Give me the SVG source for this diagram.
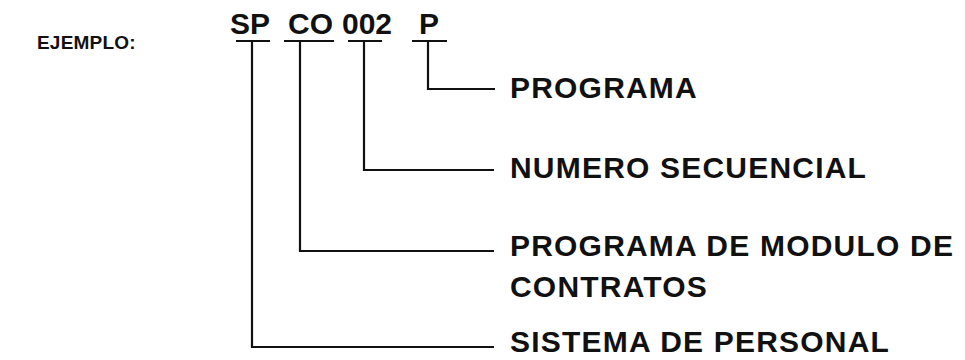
<svg xmlns="http://www.w3.org/2000/svg" width="965" height="360" viewBox="0 0 965 360">
<style>
text{font-family:"Liberation Sans",Arial,sans-serif;font-weight:bold;fill:#111}
.code{font-size:30px}
.lbl{font-size:30px;letter-spacing:1.2px}
.head{font-size:19px;letter-spacing:0.2px}
.ln{stroke:#111;stroke-width:2.2;fill:none}
</style>
<rect width="965" height="360" fill="#fff"/>
<g id="ejemplo"><text class="head" x="37" y="49">EJEMPLO:</text></g>
<g id="code">
<text class="code" x="230" y="34">SP</text>
<text class="code" x="288" y="34">CO</text>
<text class="code" x="342" y="34">002</text>
<text class="code" x="419" y="34">P</text>
</g>
<g id="connectors">
<line class="ln" x1="236" y1="41" x2="270" y2="41"/>
<line class="ln" x1="284" y1="41" x2="334" y2="41"/>
<line class="ln" x1="348" y1="41" x2="382" y2="41"/>
<line class="ln" x1="412" y1="41" x2="447" y2="41"/>
<polyline class="ln" points="428,41 428,89 495,89"/>
<polyline class="ln" points="364,41 364,170 494,170"/>
<polyline class="ln" points="300,41 300,251 494,251"/>
<polyline class="ln" points="252,41 252,347 494,347"/>
</g>
<g id="n-programa"><text class="lbl" x="510" y="98">PROGRAMA</text></g>
<g id="n-numero"><text class="lbl" x="510" y="178">NUMERO SECUENCIAL</text></g>
<g id="n-modulo"><text class="lbl" x="510" y="256">PROGRAMA DE MODULO DE</text><text class="lbl" x="510" y="297">CONTRATOS</text></g>
<g id="n-sistema"><text class="lbl" x="510" y="352">SISTEMA DE PERSONAL</text></g>
</svg>
